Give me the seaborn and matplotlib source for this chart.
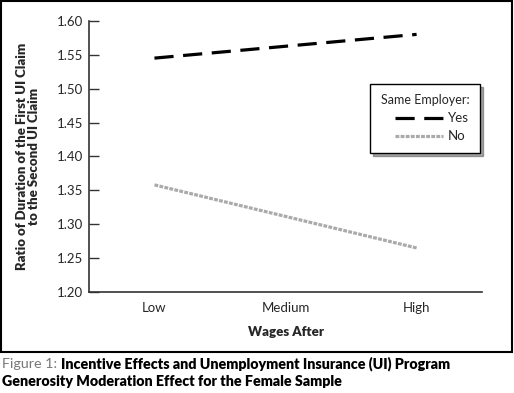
import matplotlib.pyplot as plt
import pandas as pd
import seaborn as sns
from matplotlib.patches import Rectangle

# Data
wages = ["Low", "Medium", "High"]
same_yes = [1.545, 1.5625, 1.580]
same_no = [1.358, 1.3115, 1.265]
y_ticks = [1.20, 1.25, 1.30, 1.35, 1.40, 1.45, 1.50, 1.55, 1.60]

df = pd.DataFrame({
    "Wages After": wages * 2,
    "Ratio": same_yes + same_no,
    "Same Employer": ["Yes"] * 3 + ["No"] * 3,
})

sns.set_style("white")
plt.rcParams["font.family"] = ["Lato", "DejaVu Sans"]

fig = plt.figure(figsize=(5.14, 3.93), dpi=100)
ax = fig.add_axes([0.173, 0.257, 0.765, 0.690])

sns.lineplot(data=df, x="Wages After", y="Ratio", hue="Same Employer", style="Same Employer",
             palette={"Yes": "black", "No": "#aaaaaa"},
             dashes={"Yes": (6, 3), "No": (1.2, 0.4)},
             linewidth=2.3, ax=ax, legend=False)

ax.set_xlim(-0.5, 2.5)
ax.set_ylim(1.20, 1.60)
ax.set_yticks(y_ticks)
ax.set_yticklabels([f"{v:.2f}" for v in y_ticks], fontsize=9.5)
ax.set_xticks(range(len(wages)))
ax.set_xticklabels(wages, fontsize=9.5)
ax.set_xticks([0.5, 1.5, 2.5], minor=True)
ax.tick_params(axis="x", which="major", length=0, pad=7)
ax.tick_params(axis="x", which="minor", direction="in", length=6, width=1, color="#333333")
ax.tick_params(axis="y", direction="in", length=7, width=1, color="#333333", left=True, pad=4)
for s in ["top", "right"]:
    ax.spines[s].set_visible(False)
for s in ["left", "bottom"]:
    ax.spines[s].set_color("#333333")
    ax.spines[s].set_linewidth(1.2)

ax.set_xlabel("Wages After", fontsize=9.5, fontweight="heavy", labelpad=9)
ax.set_ylabel("Ratio of Duration of the First UI Claim\nto the Second UI Claim",
              fontsize=9.5, fontweight="heavy", labelpad=12, linespacing=1.05)

# legend
h_yes, = ax.plot([], [], color="black", lw=2.3, dashes=(6, 3))
h_no, = ax.plot([], [], color="#aaaaaa", lw=2.3, dashes=(1.2, 0.4))
leg = ax.legend([h_yes, h_no], ["Yes", "No"], title="Same Employer:",
                loc="upper left", bbox_to_anchor=(0.715, 0.768), borderaxespad=0,
                frameon=True, fancybox=False, shadow=True, fontsize=9.5,
                title_fontsize=9, handlelength=3.6, borderpad=0.8,
                labelspacing=0.45, handletextpad=0.4)
leg.get_frame().set_edgecolor("black")
leg.get_frame().set_linewidth(1.0)
leg._legend_box.align = "right"

# outer frame
fig.patches.append(Rectangle((0.002, 1 - 352 / 393), 0.994, 352 / 393 - 0.003,
                             transform=fig.transFigure, fill=False,
                             edgecolor="black", linewidth=1.5))

# caption
t1 = fig.text(0.004, 1 - 364 / 393, "Figure 1: ", color="#777777", fontsize=10.3, va="center")
fig.canvas.draw()
bb = t1.get_window_extent().transformed(fig.transFigure.inverted())
fig.text(bb.x1, 1 - 364 / 393, "Incentive Effects and Unemployment Insurance (UI) Program",
         color="black", fontsize=10.3, fontweight="heavy", va="center")
fig.text(0.004, 1 - 382 / 393, "Generosity Moderation Effect for the Female Sample",
         color="black", fontsize=10.3, fontweight="heavy", va="center")

fig.savefig("out.png", dpi=100)
